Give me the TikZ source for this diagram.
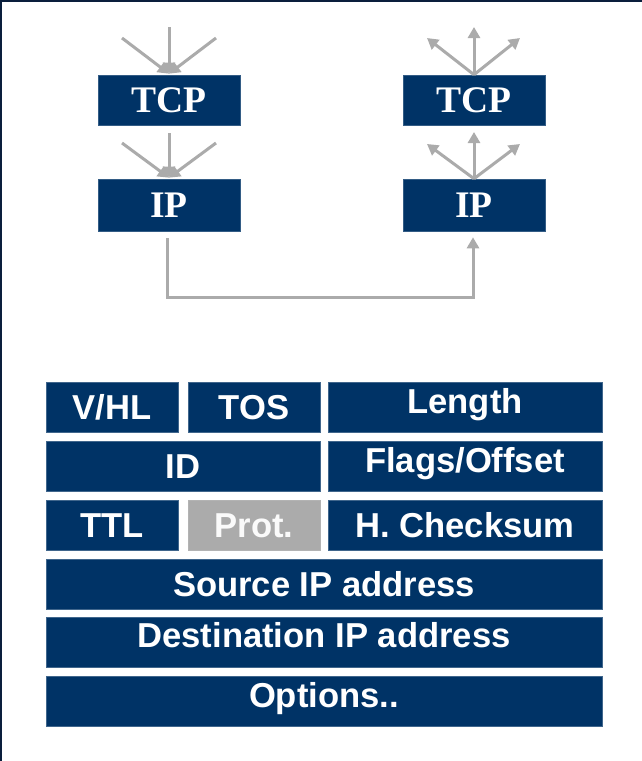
\documentclass[tikz,border=0pt]{standalone}
\usepackage{fontspec}
\setmainfont{Liberation Serif}
\setsansfont{Liberation Sans}
\usetikzlibrary{arrows.meta}

\definecolor{navy}{RGB}{0,51,102}
\definecolor{frame}{RGB}{10,30,60}
\definecolor{arrowgray}{RGB}{171,171,171}

\tikzset{
  layer/.style={fill=navy, draw=navy!80!white, line width=0.6pt, inner sep=0pt,
    minimum width=142, text=white,
    font=\rmfamily\bfseries\fontsize{37.5}{37.5}\selectfont,
    text height=24.8pt, text depth=0pt},
  cell/.style={fill=navy, draw=navy!75!white, line width=0.6pt, inner sep=0pt,
    minimum height=50, text=white,
    font=\sffamily\bfseries\fontsize{34.6}{34.6}\selectfont,
    text height=24.7pt, text depth=0pt},
  greycell/.style={cell, fill=arrowgray, draw=arrowgray!90!white, text=white!96!gray},
  ray/.style={draw=arrowgray, line width=3pt, -{Triangle[length=11pt,width=12pt]}},
  conn/.style={draw=arrowgray, line width=3pt, -{Triangle[length=11pt,width=12pt]}}
}

\begin{document}
\begin{tikzpicture}[x=1pt, y=-1pt]
  \useasboundingbox (0,0) rectangle (642,761);
  \fill[white] (0,0) rectangle (642,761);
  % thin frame on the left and top edges
  \draw[frame, line width=2pt] (1,761) -- (1,1) -- (642,1);

  % protocol stacks
  \node[layer, minimum height=50] (tcpL) at (169,100) {TCP};
  \node[layer, minimum height=52] (ipL)  at (169,205) {IP};
  \node[layer, minimum height=50] (tcpR) at (474,100) {TCP};
  \node[layer, minimum height=52] (ipR)  at (474,205) {IP};

  % sending side: data converging downwards
  \coordinate (a1) at (169,27);  \coordinate (a2) at (122,38);  \coordinate (a3) at (216,38);
  \coordinate (b1) at (169,133); \coordinate (b2) at (122,143); \coordinate (b3) at (216,143);
  \foreach \p in {a1,a2,a3} \draw[ray] (\p) -- ([yshift=1pt]tcpL.north);
  \foreach \p in {b1,b2,b3} \draw[ray] (\p) -- ([yshift=1pt]ipL.north);

  % receiving side: data fanning out upwards
  \coordinate (c1) at (474,27);  \coordinate (c2) at (427,38);  \coordinate (c3) at (520,38);
  \coordinate (d1) at (474,132); \coordinate (d2) at (427,144); \coordinate (d3) at (520,144);
  \foreach \p in {c1,c2,c3} \draw[ray] (tcpR.north) -- (\p);
  \foreach \p in {d1,d2,d3} \draw[ray] (ipR.north) -- (\p);

  % network path between the two IP layers
  \draw[conn] ([xshift=-2pt,yshift=-7pt]ipL.south) -- ++(0,59) -| ([xshift=-1pt,yshift=-6pt]ipR.south);

  % IPv4 header fields
  \node[cell, minimum width=132] (vhl)   at (112,407) {V/HL};
  \node[cell, minimum width=132] (tos)   at (254,407) {TOS};
  \node[cell, minimum width=274] (len)   at (465,407) {\raisebox{6pt}{Length}};
  \node[cell, minimum width=274] (id)    at (183,466) {ID};
  \node[cell, minimum width=274] (flags) at (465,466) {\raisebox{6pt}{Flags/Offset}};
  \node[cell, minimum width=132] (ttl)   at (112,525) {TTL};
  \node[greycell, minimum width=132] (prot) at (254,525) {Prot.};
  \node[cell, minimum width=274] (chk)   at (465,525) {H. Checksum};
  \node[cell, minimum width=556] (src)   at (324,584) {Source IP address};
  \node[cell, minimum width=556] (dst)   at (324,642.5) {\raisebox{7pt}{Destination IP address}};
  \node[cell, minimum width=556] (opt)   at (324,701) {\raisebox{6pt}{Options..}};
\end{tikzpicture}
\end{document}
